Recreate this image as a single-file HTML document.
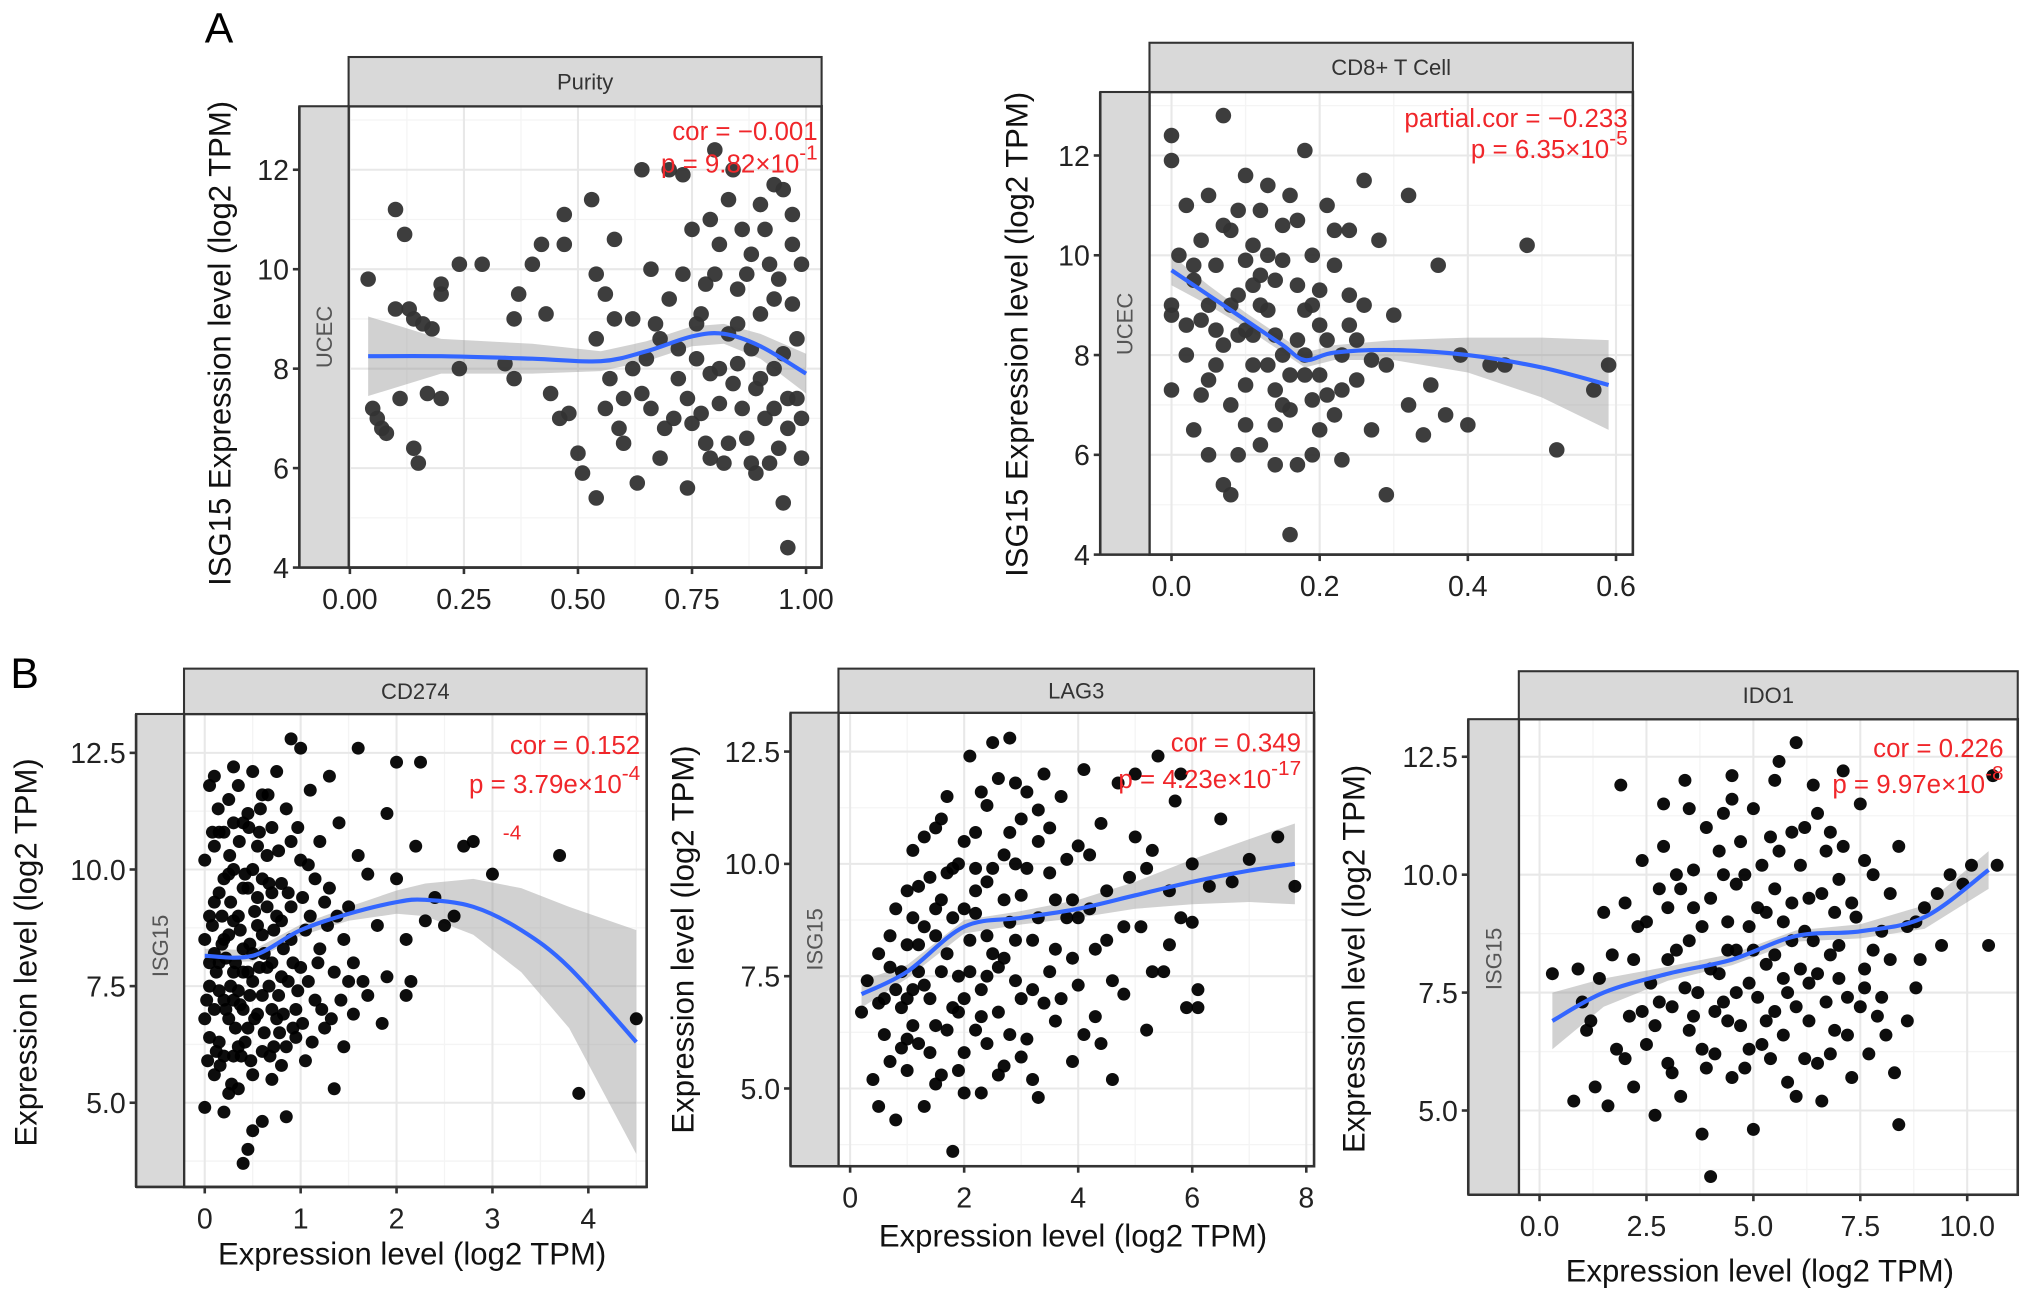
<!DOCTYPE html>
<html><head><meta charset="utf-8"><style>
html,body{margin:0;padding:0;background:#fff}
svg{display:block}
text{font-family:"Liberation Sans",sans-serif}
</style></head><body>
<svg id="fig" width="2032" height="1301" viewBox="0 0 1568 1004" preserveAspectRatio="none" xmlns="http://www.w3.org/2000/svg">
<rect x="0" y="0" width="1568" height="1004" fill="#fff"/>
<text x="158" y="33" font-size="33">A</text>
<text x="8" y="531" font-size="33">B</text>
</svg>
<script>
// ---------- data ----------
const purityPts=[[0.04,9.8],[0.05,7.2],[0.06,7.0],[0.07,6.8],[0.08,6.7],[0.1,11.2],[0.1,9.2],[0.11,7.4],[0.12,10.7],[0.13,9.2],[0.14,9.0],[0.14,6.4],[0.15,6.1],[0.16,8.9],[0.17,7.5],[0.18,8.8],[0.2,9.7],[0.2,9.5],[0.2,7.4],[0.24,10.1],[0.24,8.0],[0.29,10.1],[0.34,8.1],[0.36,9.0],[0.36,7.8],[0.37,9.5],[0.4,10.1],[0.42,10.5],[0.43,9.1],[0.44,7.5],[0.46,7.0],[0.47,11.1],[0.47,10.5],[0.48,7.1],[0.5,6.3],[0.51,5.9],[0.53,11.4],[0.54,9.9],[0.54,8.6],[0.54,5.4],[0.56,9.5],[0.57,7.8],[0.58,10.6],[0.59,6.8],[0.6,6.5],[0.62,9.0],[0.63,5.7],[0.64,12.0],[0.65,8.2],[0.66,7.2],[0.68,6.2],[0.7,12.0],[0.7,9.4],[0.72,7.8],[0.73,11.9],[0.74,5.6],[0.75,10.8],[0.76,8.9],[0.77,7.1],[0.78,6.5],[0.79,11.0],[0.8,12.4],[0.8,9.9],[0.81,8.0],[0.82,6.1],[0.83,11.4],[0.84,12.0],[0.85,9.6],[0.86,7.2],[0.87,6.6],[0.88,10.3],[0.88,8.4],[0.89,5.9],[0.9,11.3],[0.9,9.1],[0.91,7.0],[0.92,10.1],[0.93,11.7],[0.93,8.0],[0.94,6.4],[0.95,11.6],[0.95,5.3],[0.96,4.4],[0.96,7.4],[0.97,11.1],[0.97,9.3],[0.98,8.6],[0.99,10.1],[0.99,7.0],[0.99,6.2],[0.66,10.0],[0.72,8.4],[0.78,9.7],[0.84,7.7],[0.86,10.8],[0.74,7.4],[0.69,6.8],[0.92,6.1],[0.81,7.3],[0.77,9.1],[0.83,8.7],[0.89,7.6],[0.75,6.9],[0.94,9.8],[0.67,8.9],
[0.85,8.9],[0.87,9.9],[0.9,7.8],[0.91,10.8],[0.93,9.4],[0.95,8.3],[0.96,6.8],[0.97,10.5],[0.98,7.4],[0.79,7.9],[0.81,10.5],[0.76,8.2],[0.73,9.9],[0.71,7.0],[0.68,8.6],[0.64,7.5],[0.62,8.0],[0.6,7.4],[0.58,9.0],[0.56,7.2],[0.88,6.1],[0.83,6.5],[0.79,6.2],[0.93,7.2],[0.85,8.1]];
const puritySmoothX=[0.04,0.2,0.4,0.55,0.65,0.75,0.82,0.9,1.0];
const puritySmoothY=[8.25,8.25,8.2,8.15,8.35,8.65,8.7,8.45,7.9];
const puritySmoothSE=[0.8,0.35,0.3,0.2,0.2,0.2,0.2,0.25,0.4];

const cd8Pts=[[0.0,12.4],[0.0,11.9],[0.0,9.0],[0.0,8.8],[0.0,7.3],[0.01,10.0],[0.02,11.0],[0.02,8.0],[0.03,9.5],[0.03,6.5],[0.04,10.3],[0.04,8.7],[0.05,11.2],[0.05,7.5],[0.05,6.0],[0.06,9.8],[0.07,12.8],[0.07,8.2],[0.07,5.4],[0.08,10.5],[0.08,7.0],[0.08,5.2],[0.09,9.2],[0.1,11.6],[0.1,8.5],[0.1,6.6],[0.11,10.2],[0.11,7.8],[0.12,9.6],[0.12,6.2],[0.13,11.4],[0.13,8.9],[0.14,7.3],[0.14,5.8],[0.15,10.6],[0.15,8.0],[0.16,11.2],[0.16,6.9],[0.16,4.4],[0.17,9.4],[0.18,12.1],[0.18,7.6],[0.19,10.0],[0.19,6.0],[0.2,8.6],[0.21,11.0],[0.21,7.2],[0.22,9.8],[0.23,8.0],[0.23,5.9],[0.24,10.5],[0.25,7.5],[0.26,11.5],[0.26,9.0],[0.27,6.5],[0.28,10.3],[0.29,7.8],[0.29,5.2],[0.3,8.8],[0.32,11.2],[0.32,7.0],[0.34,6.4],[0.35,7.4],[0.36,9.8],[0.37,6.8],[0.39,8.0],[0.4,6.6],[0.43,7.8],[0.45,7.8],[0.48,10.2],[0.52,6.1],[0.57,7.3],[0.59,7.8],[0.06,7.8],[0.09,6.0],[0.13,10.0],[0.17,8.3],[0.2,9.3],[0.12,9.0],[0.15,7.0],[0.22,6.8],[0.1,9.9],[0.14,9.5],[0.18,8.9],[0.11,8.4],[0.08,9.0],[0.19,7.1],[0.24,8.6],
[0.05,9.0],[0.07,10.6],[0.09,8.4],[0.1,7.4],[0.11,9.4],[0.12,10.9],[0.13,7.8],[0.14,8.4],[0.15,9.9],[0.16,7.6],[0.17,10.7],[0.18,8.0],[0.19,9.0],[0.2,7.6],[0.21,8.3],[0.22,10.5],[0.23,7.3],[0.24,9.2],[0.25,8.3],[0.09,10.9],[0.06,8.5],[0.04,7.2],[0.03,9.8],[0.02,8.6],[0.27,7.9],[0.14,6.6],[0.17,5.8],[0.2,6.5]];
const cd8SmoothX=[0,0.05,0.1,0.15,0.18,0.22,0.3,0.4,0.5,0.59];
const cd8SmoothY=[9.7,9.2,8.7,8.2,7.9,8.05,8.1,8.0,7.75,7.4];
const cd8SmoothSE=[0.3,0.2,0.15,0.15,0.15,0.15,0.2,0.35,0.6,0.9];

const cd274Pts=[[0.0,4.9],[0.0,6.8],[0.0,8.5],[0.0,10.2],[0.05,11.8],[0.05,7.5],[0.1,9.3],[0.1,5.6],[0.1,12.0],[0.15,8.0],[0.15,10.8],[0.15,6.3],[0.2,7.2],[0.2,9.8],[0.2,4.8],[0.25,11.5],[0.25,8.6],[0.3,6.0],[0.3,7.8],[0.3,10.0],[0.3,12.2],[0.35,9.0],[0.35,5.3],[0.4,7.0],[0.4,11.0],[0.4,3.7],[0.4,8.3],[0.45,9.6],[0.45,6.6],[0.5,12.1],[0.5,7.6],[0.5,4.4],[0.55,10.5],[0.55,8.8],[0.6,6.1],[0.6,11.6],[0.6,7.3],[0.65,9.2],[0.7,5.5],[0.7,8.0],[0.7,10.9],[0.75,12.1],[0.75,6.8],[0.8,9.7],[0.8,7.7],[0.85,4.7],[0.85,11.3],[0.9,8.5],[0.9,12.8],[0.95,6.4],[1.0,10.2],[1.0,7.9],[1.0,12.6],[1.05,5.9],[1.1,9.0],[1.1,11.7],[1.15,7.2],[1.2,10.6],[1.2,8.3],[1.25,6.6],[1.3,9.6],[1.3,12.0],[1.35,7.8],[1.4,11.0],[1.45,6.2],[1.5,9.2],[1.55,8.0],[1.6,12.6],[1.6,10.3],[1.7,7.3],[1.7,9.9],[1.8,8.8],[1.9,11.2],[1.9,7.7],[2.0,9.8],[2.0,12.3],[2.1,8.5],[2.1,7.3],[2.2,10.5],[2.3,8.9],[2.4,9.4],[2.5,8.8],[2.6,9.0],[2.7,10.5],[2.8,10.6],[3.0,9.9],[3.7,10.3],[3.9,5.2],[4.5,6.8],[0.25,5.2],[0.45,4.0],[0.6,4.6],[0.15,9.5],[0.35,11.8],[0.55,6.9],[0.8,5.8],[0.2,10.8],[0.65,7.9],[1.05,8.7],[0.35,7.4],[0.05,9.0],[0.5,10.0],[0.75,9.0],[0.95,7.0],[1.15,9.8],[0.25,6.8],[2.25,12.3],[1.45,8.5],[1.85,6.7],[2.15,7.6],[1.35,5.3],[0.1,7.0],[0.3,8.9],[0.45,11.2],[0.65,10.3],[0.85,6.2],[0.2,6.0],[0.4,9.6],[0.6,8.6],[0.1,10.5],[0.5,5.6],[0.7,7.0],[0.3,11.0],[0.15,7.4],[0.55,9.4],[0.9,10.6],[1.25,9.3],[0.35,6.2],[0.05,8.0],[0.25,9.9],[0.45,7.8],
[0.02,7.2],[0.05,6.4],[0.08,8.8],[0.12,7.8],[0.12,6.1],[0.18,8.4],[0.18,9.0],[0.22,7.0],[0.22,8.1],[0.27,7.5],[0.27,9.3],[0.32,6.6],[0.32,8.0],[0.37,7.1],[0.37,8.7],[0.42,6.3],[0.42,9.9],[0.47,7.3],[0.47,8.4],[0.52,6.8],[0.52,9.1],[0.57,7.9],[0.57,10.8],[0.62,6.5],[0.62,8.2],[0.67,7.5],[0.67,9.7],[0.72,6.2],[0.72,8.7],[0.77,7.3],[0.77,10.4],[0.82,6.9],[0.82,8.3],[0.87,7.6],[0.87,9.5],[0.92,6.6],[0.92,8.0],[0.97,7.4],[0.97,10.9],[1.02,6.7],[1.02,9.4],[1.08,7.6],[1.08,10.1],[1.12,6.3],[1.18,8.0],[1.22,7.0],[1.28,8.8],[1.32,6.8],[1.38,9.0],[1.42,7.2],[1.5,7.6],[1.55,6.9],[1.65,7.6],[0.08,10.8],[0.14,11.3],[0.26,10.3],[0.36,10.6],[0.46,10.9],[0.58,11.3],[0.66,11.6],[0.03,5.9],[0.16,5.8],[0.28,5.4],[0.38,6.0],[0.48,5.9],[0.68,6.0],[0.78,6.5],[0.1,8.2],[0.2,8.5],[0.3,7.2],[0.4,7.8],[0.5,8.2],[0.6,9.8],[0.7,9.5],[0.8,8.9],[0.9,9.2]];
const cd274SmoothX=[0,0.5,1,1.5,2,2.3,2.8,3.3,3.8,4.5];
const cd274SmoothY=[8.15,8.15,8.7,9.05,9.3,9.35,9.2,8.7,7.9,6.3];
const cd274SmoothSE=[0.15,0.12,0.12,0.15,0.25,0.35,0.6,0.9,1.3,2.4];

const lag3Pts=[[0.2,6.7],[0.3,7.4],[0.4,5.2],[0.5,8.0],[0.5,4.6],[0.6,6.2],[0.7,7.7],[0.7,5.6],[0.8,9.0],[0.8,4.3],[0.9,6.8],[1.0,8.2],[1.0,5.4],[1.1,10.3],[1.1,7.2],[1.2,6.0],[1.2,9.5],[1.3,4.6],[1.3,8.6],[1.4,7.0],[1.5,10.8],[1.5,6.4],[1.6,5.3],[1.6,9.2],[1.7,8.0],[1.7,11.5],[1.8,6.8],[1.8,3.6],[1.9,10.0],[1.9,7.5],[2.0,5.8],[2.0,9.0],[2.1,12.4],[2.1,8.3],[2.2,6.3],[2.2,10.7],[2.3,7.2],[2.3,4.9],[2.4,11.3],[2.4,9.6],[2.5,8.0],[2.5,12.7],[2.6,6.7],[2.7,10.2],[2.7,5.5],[2.8,8.7],[2.8,12.8],[2.9,7.4],[3.0,11.0],[3.0,9.3],[3.1,6.1],[3.2,8.3],[3.3,10.5],[3.3,4.8],[3.4,12.0],[3.5,7.6],[3.5,9.8],[3.6,6.5],[3.7,11.5],[3.8,8.8],[3.9,5.6],[4.0,10.4],[4.0,7.3],[4.1,12.1],[4.2,9.0],[4.3,6.6],[4.4,10.9],[4.5,8.3],[4.6,5.2],[4.7,11.8],[4.8,7.1],[4.9,9.7],[5.0,12.0],[5.1,8.6],[5.2,6.3],[5.3,10.3],[5.4,12.4],[5.5,7.6],[5.6,9.4],[5.7,11.4],[5.8,8.8],[5.9,6.8],[6.0,10.0],[6.0,8.7],[6.1,6.8],[6.3,9.5],[6.5,11.0],[6.7,9.6],[7.0,10.1],[7.5,10.6],[7.8,9.5],[5.8,12.0],[6.1,7.2],[1.4,9.7],[2.6,11.9],[3.2,5.2],[0.9,5.9],[1.0,7.0],[2.0,7.0],[3.6,8.1],[4.4,6.0],[5.2,9.9],[1.5,8.4],[2.2,9.4],[2.9,10.0],[1.8,9.9],[2.4,6.0],[3.1,11.6],[1.2,7.6],[3.9,9.2],[0.6,7.0],[2.7,7.9],
[0.5,6.9],[0.7,8.4],[0.9,7.6],[1.0,9.4],[1.1,6.4],[1.2,8.2],[1.3,7.3],[1.4,5.8],[1.5,9.0],[1.6,7.6],[1.7,6.3],[1.8,8.8],[1.9,5.4],[2.0,10.5],[2.1,7.6],[2.2,8.9],[2.3,6.6],[2.4,8.4],[2.5,9.9],[2.6,7.7],[2.7,9.2],[2.8,6.2],[2.9,8.3],[3.0,7.0],[3.1,9.9],[3.2,7.2],[3.3,8.8],[3.4,6.9],[3.5,10.8],[3.6,9.2],[3.7,7.0],[3.8,10.1],[3.9,7.9],[4.0,8.8],[4.1,6.2],[4.2,10.2],[4.3,8.1],[4.5,9.4],[4.6,7.4],[4.8,8.6],[5.0,10.6],[5.3,7.6],[5.6,8.2],[1.3,10.6],[1.6,11.0],[2.3,11.6],[2.9,11.8],[3.3,11.2],[1.0,6.1],[2.0,4.9],[2.6,5.3],[1.5,5.1],[3.0,5.7],[0.8,7.2],[1.9,6.7],[2.4,7.5],[1.1,8.8],[1.7,9.8],[2.2,9.9],[2.8,10.7]];
const lag3SmoothX=[0.2,1,2,3,4,5,6,7,7.8];
const lag3SmoothY=[7.1,7.6,8.6,8.8,9.0,9.3,9.6,9.85,10.0];
const lag3SmoothSE=[0.3,0.15,0.15,0.15,0.2,0.3,0.5,0.7,0.9];

const ido1Pts=[[0.3,7.9],[0.8,5.2],[0.9,8.0],[1.1,6.7],[1.3,5.5],[1.4,7.8],[1.6,5.1],[1.7,8.3],[1.8,6.3],[1.9,11.9],[2.0,9.4],[2.1,7.0],[2.2,5.5],[2.3,8.9],[2.4,10.3],[2.5,6.4],[2.6,7.7],[2.7,4.9],[2.8,9.7],[2.9,11.5],[3.0,8.2],[3.0,6.0],[3.1,7.2],[3.2,10.0],[3.3,5.3],[3.4,12.0],[3.5,8.6],[3.5,6.7],[3.6,9.3],[3.7,7.5],[3.8,4.5],[3.9,11.0],[4.0,8.0],[4.0,3.6],[4.1,6.2],[4.2,10.5],[4.3,7.3],[4.4,9.0],[4.5,12.1],[4.5,5.7],[4.6,8.4],[4.7,6.8],[4.8,10.0],[4.9,7.7],[5.0,11.4],[5.0,4.6],[5.1,9.3],[5.2,6.4],[5.3,8.1],[5.4,10.8],[5.5,7.1],[5.6,12.4],[5.7,9.0],[5.8,5.6],[5.9,8.6],[6.0,12.8],[6.0,7.2],[6.1,10.2],[6.2,6.1],[6.3,9.5],[6.4,11.9],[6.5,7.9],[6.6,5.2],[6.7,10.5],[6.8,8.3],[6.9,6.7],[7.0,9.9],[7.1,12.2],[7.2,7.4],[7.3,5.7],[7.4,9.1],[7.5,11.5],[7.6,8.0],[7.7,6.2],[7.8,10.0],[7.9,7.0],[8.0,8.8],[8.1,6.6],[8.2,9.6],[8.3,5.8],[8.4,4.7],[8.6,8.9],[8.8,7.6],[9.0,9.3],[9.3,9.6],[9.6,10.0],[10.1,10.2],[10.5,8.5],[10.6,12.1],[10.7,10.2],[9.9,9.8],[1.2,6.9],[2.0,6.1],[3.8,8.9],[4.8,5.9],[5.5,9.7],[6.5,6.0],[7.6,7.6],[4.2,7.9],[5.3,6.9],[3.3,9.7],[2.8,7.3],[6.8,10.9],[4.6,9.8],[5.7,7.8],[6.2,8.8],[3.6,7.0],[5.0,8.4],[4.3,11.3],[6.9,9.2],[5.9,10.9],
[2.2,8.2],[2.5,9.0],[2.7,6.8],[3.0,9.3],[3.2,8.4],[3.4,7.6],[3.6,10.1],[3.8,6.3],[4.0,9.5],[4.1,7.1],[4.3,10.0],[4.4,6.9],[4.6,7.5],[4.7,10.7],[4.9,8.9],[5.1,7.4],[5.2,10.2],[5.4,6.1],[5.5,8.3],[5.6,10.5],[5.8,7.5],[5.9,9.4],[6.1,8.0],[6.2,11.0],[6.3,6.9],[6.4,8.6],[6.6,9.6],[6.7,7.3],[6.8,6.2],[7.0,8.5],[7.1,10.6],[7.2,6.6],[7.3,9.4],[7.5,7.2],[7.6,10.3],[7.8,8.4],[8.0,7.4],[8.2,8.2],[8.4,10.6],[8.6,6.9],[8.8,9.0],[3.5,11.4],[4.5,11.6],[5.5,12.0],[6.5,11.3],[4.9,6.3],[3.9,5.9],[5.7,6.6],[6.0,5.3],[2.9,10.6],[3.1,5.8],[4.4,8.4],[5.3,9.2],[6.3,7.7],[7.0,7.8],[2.4,7.1],[1.5,9.2],[1.0,7.3],[8.9,8.2],[9.4,8.5]];
const ido1SmoothX=[0.3,1.5,3,4.5,6,7.5,9,10.5];
const ido1SmoothY=[6.9,7.5,7.9,8.2,8.7,8.8,9.1,10.1];
const ido1SmoothSE=[0.6,0.3,0.15,0.12,0.12,0.15,0.25,0.4];

// ---------- drawing ----------
const NS='http://www.w3.org/2000/svg';
const svg=document.getElementById('fig');
function mk(tag,attrs,parent){const e=document.createElementNS(NS,tag);for(const k in attrs)e.setAttribute(k,attrs[k]);(parent||svg).appendChild(e);return e;}
function lin(v0,p0,v1,p1){return v=>p0+(v-v0)*(p1-p0)/(v1-v0);}

function panel(c){
  const g=mk('g',{});
  
  
  const X=lin(c.xa[0],c.xa[1],c.xb[0],c.xb[1]);
  const Y=lin(c.ya[0],c.ya[1],c.yb[0],c.yb[1]);
  const L=c.px0,R=c.px1,T=c.py0,B=c.py1;
  mk('rect',{x:L,y:T,width:R-L,height:B-T,fill:'#fff'},g);
  const xs=c.xticks, ys=c.yticks;
  const dx=xs[1]-xs[0], dy=ys[1]-ys[0];
  for(let v=xs[0]-dx/2;v<=xs[xs.length-1]+dx;v+=dx){const p=X(v);if(p>L&&p<R)mk('line',{x1:p,x2:p,y1:T,y2:B,stroke:'#f4f4f4','stroke-width':1},g);}
  for(let v=ys[0]-dy*1.5;v<=ys[ys.length-1]+dy;v+=dy){const p=Y(v);if(p>T&&p<B)mk('line',{x1:L,x2:R,y1:p,y2:p,stroke:'#f4f4f4','stroke-width':1},g);}
  xs.forEach(v=>{const p=X(v);mk('line',{x1:p,x2:p,y1:T,y2:B,stroke:'#e8e8e8','stroke-width':1.6},g);});
  ys.forEach(v=>{const p=Y(v);if(p>T&&p<B)mk('line',{x1:L,x2:R,y1:p,y2:p,stroke:'#e8e8e8','stroke-width':1.6},g);});
  const sx=c.sx,sy=c.sy,se=c.se;
  let d='M'+sx.map((v,i)=>X(v)+','+Y(sy[i]+se[i])).join('L');
  for(let i=sx.length-1;i>=0;i--)d+='L'+X(sx[i])+','+Y(sy[i]-se[i]);
  const band=mk('path',{d:d+'Z',fill:'#999','fill-opacity':0.45},g);
  
  
  c.pts.forEach(p=>{
    const ci=mk('circle',{cx:X(p[0]),cy:Y(p[1]),r:c.r,fill:c.col,'fill-opacity':0.95},g);
    
    
  });
  const P=sx.map((v,i)=>[X(v),Y(sy[i])]);
  let ld='M'+P[0][0]+','+P[0][1];
  for(let i=0;i<P.length-1;i++){const p0=P[i-1]||P[i],p1=P[i],p2=P[i+1],p3=P[i+2]||P[i+1];
    ld+='C'+(p1[0]+(p2[0]-p0[0])/6)+','+(p1[1]+(p2[1]-p0[1])/6)+' '+(p2[0]-(p3[0]-p1[0])/6)+','+(p2[1]-(p3[1]-p1[1])/6)+' '+p2[0]+','+p2[1];}
  const ln=mk('path',{d:ld,fill:'none',stroke:'#3366ff','stroke-width':3.2},g);
  
  
  mk('rect',{x:L,y:T,width:R-L,height:B-T,fill:'none',stroke:'#333','stroke-width':2},g);
  mk('rect',{x:L,y:c.st,width:R-L,height:T-c.st,fill:'#d9d9d9',stroke:'#333','stroke-width':1.6},g);
  const t1=mk('text',{x:(L+R)/2,y:(c.st+T)/2+6,'font-size':17,fill:'#333','text-anchor':'middle'},g);t1.textContent=c.strip;
  
  
  mk('rect',{x:c.sl,y:T,width:L-c.sl,height:B-T,fill:'#d9d9d9',stroke:'#333','stroke-width':1.6},g);
  const cyL=c.lstripY, cxL=(c.sl+L)/2+6;
  const t2=mk('text',{x:cxL,y:cyL,'font-size':17,fill:'#555','text-anchor':'middle',transform:`rotate(-90 ${cxL} ${cyL})`},g);t2.textContent=c.lstrip;
  
  
  mk('line',{x1:c.sl,x2:c.sl,y1:T,y2:B,stroke:'#333','stroke-width':2},g);
  mk('line',{x1:c.sl,x2:R,y1:B,y2:B,stroke:'#333','stroke-width':2},g);
  ys.forEach((v,i)=>{const p=Y(v);mk('line',{x1:c.sl-5,x2:c.sl,y1:p,y2:p,stroke:'#333','stroke-width':2},g);
    const t=mk('text',{x:c.sl-8,y:p+8,'font-size':22,fill:'#222','text-anchor':'end'},g);t.textContent=c.ylabels[i];
    
    });
  xs.forEach((v,i)=>{const p=X(v);mk('line',{x1:p,x2:p,y1:B,y2:B+5,stroke:'#333','stroke-width':2},g);
    const t=mk('text',{x:p,y:B+32,'font-size':22,fill:'#222','text-anchor':'middle'},g);t.textContent=c.xlabels[i];
    
    });
  const yt=mk('text',{x:c.ytx,y:c.yty,'font-size':24,fill:'#111','text-anchor':'middle',transform:`rotate(-90 ${c.ytx} ${c.yty})`},g);yt.textContent=c.ytitle;
  
  
  if(c.xtitle){const xt=mk('text',{x:c.xtx,y:c.xty,'font-size':24,fill:'#111','text-anchor':'middle'},g);xt.textContent=c.xtitle;
    
    }
  const a1=mk('text',{x:c.ax,y:c.ay1,'font-size':20,fill:'#f0262a','text-anchor':'end'},g);a1.textContent=c.ann1;
  
  
  const a2=mk('text',{x:c.ax,y:c.ay2,'font-size':20,fill:'#f0262a','text-anchor':'end'},g);
  
  
  const s1=mk('tspan',{},a2);s1.textContent=c.ann2;
  const s2=mk('tspan',{dy:-10,'font-size':16},a2);s2.textContent=c.sup;
}

panel({name:'panel-purity',px0:269,px1:634,py0:82,py1:438,st:44,sl:231,lstripY:260,xa:[0,270],xb:[1,622],ya:[4,438],yb:[12,131],
 xticks:[0,0.25,0.5,0.75,1],xlabels:['0.00','0.25','0.50','0.75','1.00'],yticks:[4,6,8,10,12],ylabels:['4','6','8','10','12'],
 pts:purityPts,sx:puritySmoothX,sy:puritySmoothY,se:puritySmoothSE,r:6,col:'#333',strip:'Purity',lstrip:'UCEC',
 ytitle:'ISG15 Expression level (log2 TPM)',ytx:178,yty:265,ax:631,ay1:108,ay2:133,ann1:'cor = \u22120.001',ann2:'p = 9.82\u00d710',sup:'-1'});
panel({name:'panel-cd8-t-cell',px0:887,px1:1260,py0:71,py1:428,st:33,sl:849,lstripY:250,xa:[0,904],xb:[0.6,1247],ya:[4,428],yb:[12,120],
 xticks:[0,0.2,0.4,0.6],xlabels:['0.0','0.2','0.4','0.6'],yticks:[4,6,8,10,12],ylabels:['4','6','8','10','12'],
 pts:cd8Pts,sx:cd8SmoothX,sy:cd8SmoothY,se:cd8SmoothSE,r:6,col:'#333',strip:'CD8+ T Cell',lstrip:'UCEC',
 ytitle:'ISG15 Expression level (log2 TPM)',ytx:793,yty:258,ax:1256,ay1:98,ay2:122,ann1:'partial.cor = \u22120.233',ann2:'p = 6.35\u00d710',sup:'-5'});
panel({name:'panel-cd274',px0:142,px1:499,py0:551,py1:916,st:516,sl:105,lstripY:730,xa:[0,158],xb:[4,454],ya:[5,851],yb:[12.5,581],
 xticks:[0,1,2,3,4],xlabels:['0','1','2','3','4'],yticks:[5,7.5,10,12.5],ylabels:['5.0','7.5','10.0','12.5'],
 pts:cd274Pts,sx:cd274SmoothX,sy:cd274SmoothY,se:cd274SmoothSE,r:5,col:'#000',strip:'CD274',lstrip:'ISG15',
 ytitle:'Expression level (log2 TPM)',ytx:28,yty:735,xtitle:'Expression level (log2 TPM)',xtx:318,xty:976,ax:494,ay1:582,ay2:612,ann1:'cor = 0.152',ann2:'p = 3.79e\u00d710',sup:'-4'});
panel({name:'panel-lag3',px0:647,px1:1014,py0:550,py1:900,st:516,sl:610,lstripY:725,xa:[0,656],xb:[8,1008],ya:[5,840],yb:[12.5,580],
 xticks:[0,2,4,6,8],xlabels:['0','2','4','6','8'],yticks:[5,7.5,10,12.5],ylabels:['5.0','7.5','10.0','12.5'],
 pts:lag3Pts,sx:lag3SmoothX,sy:lag3SmoothY,se:lag3SmoothSE,r:5,col:'#000',strip:'LAG3',lstrip:'ISG15',
 ytitle:'Expression level (log2 TPM)',ytx:535,yty:725,xtitle:'Expression level (log2 TPM)',xtx:828,xty:962,ax:1004,ay1:580,ay2:608,ann1:'cor = 0.349',ann2:'p = 4.23e\u00d710',sup:'-17'});
panel({name:'panel-ido1',px0:1172,px1:1557,py0:555,py1:922,st:518,sl:1133,lstripY:740,xa:[0,1188],xb:[10,1518],ya:[5,857],yb:[12.5,584],
 xticks:[0,2.5,5,7.5,10],xlabels:['0.0','2.5','5.0','7.5','10.0'],yticks:[5,7.5,10,12.5],ylabels:['5.0','7.5','10.0','12.5'],
 pts:ido1Pts,sx:ido1SmoothX,sy:ido1SmoothY,se:ido1SmoothSE,r:5,col:'#000',strip:'IDO1',lstrip:'ISG15',
 ytitle:'Expression level (log2 TPM)',ytx:1053,yty:740,xtitle:'Expression level (log2 TPM)',xtx:1358,xty:989,ax:1546,ay1:584,ay2:612,ann1:'cor = 0.226',ann2:'p = 9.97e\u00d710',sup:'-8'});
const stray=mk('text',{x:388,y:648,'font-size':16,fill:'#f0262a'});
stray.textContent='-4';


</script>
</body></html>
